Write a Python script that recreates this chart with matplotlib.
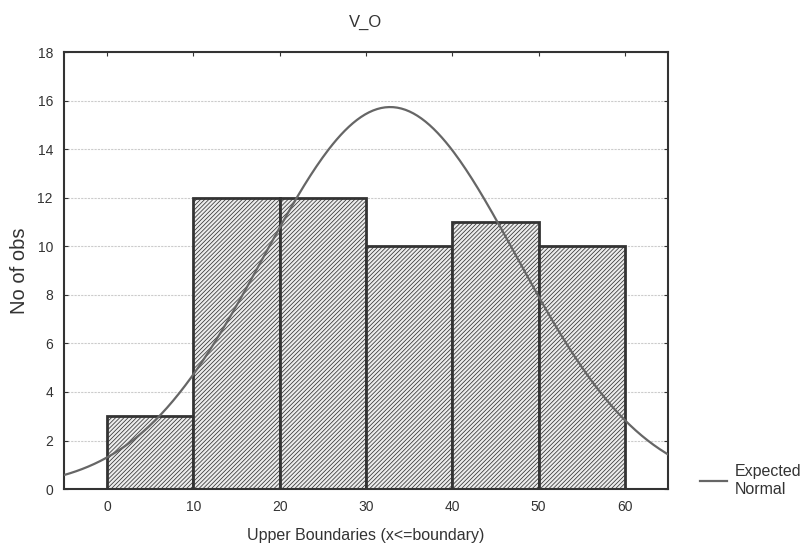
import numpy as np
import matplotlib.pyplot as plt

plt.rcParams['font.family'] = ['Liberation Sans', 'DejaVu Sans']
plt.rcParams['hatch.color'] = '#8c8c8c'
plt.rcParams['hatch.linewidth'] = 0.55

# histogram data
bin_edges = [0, 10, 20, 30, 40, 50, 60]
counts = [3, 12, 12, 10, 11, 10]

# expected normal parameters
mean_val = 32.8
sd_val = 14.7

fig = plt.figure(figsize=(8.08, 5.44), dpi=100)
ax = fig.add_axes([0.0792, 0.101, 0.7475, 0.803])

lefts = bin_edges[:-1]
widths = np.diff(bin_edges)
ax.bar(lefts, counts, width=widths, align='edge', color='#ececec',
       edgecolor='#333333', linewidth=2, hatch='////////', zorder=2)

n_total = sum(counts)
xs = np.linspace(-5, 65, 300)
ys = n_total * widths[0] / (sd_val * np.sqrt(2 * np.pi)) * np.exp(-0.5 * ((xs - mean_val) / sd_val) ** 2)
ax.plot(xs, ys, color='#666666', linewidth=1.6, zorder=3, label='Expected\nNormal')

ax.set_xlim(-5, 65)
ax.set_ylim(0, 18)
ax.set_xticks(bin_edges)
ax.set_yticks(range(0, 19, 2))
ax.yaxis.grid(True, linestyle=(0, (2, 1)), color='#cccccc', linewidth=0.8, zorder=0)
ax.set_axisbelow(True)
ax.tick_params(direction='in', length=3, labelsize=10, colors='#333333',
               top=True, right=True, pad=8)
for s in ax.spines.values():
    s.set_linewidth(1.5)
    s.set_color('#333333')

ax.set_title('V_O', fontsize=12, color='#333333', pad=18)
ax.set_xlabel('Upper Boundaries (x<=boundary)', fontsize=11.5, color='#333333', labelpad=10)
ax.set_ylabel('No of obs', fontsize=14.5, color='#333333', labelpad=6)

ax.legend(loc='center left', bbox_to_anchor=(1.053, 0.02), frameon=False,
          borderpad=0, borderaxespad=0,
          fontsize=11.5, handlelength=1.7, handletextpad=0.5, labelspacing=0.1,
          labelcolor='#333333')

fig.savefig('out.png', dpi=100)
